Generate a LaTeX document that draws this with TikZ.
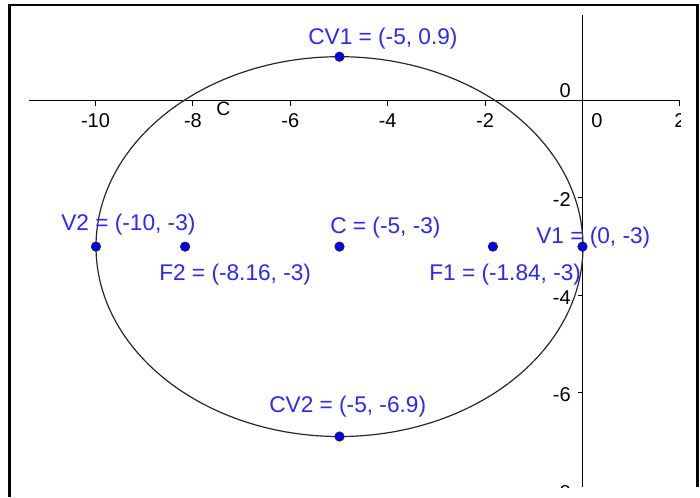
\documentclass[tikz,border=0pt]{standalone}
\usepackage{fontspec}
\setmainfont{Liberation Sans}
\definecolor{ptblue}{RGB}{0,0,255}
\definecolor{lblblue}{RGB}{40,40,255}
\definecolor{curve}{RGB}{40,40,40}
\begin{document}
\begin{tikzpicture}[x=0.75pt,y=-0.75pt,
  ptnode/.style={circle,fill=ptblue,draw=black!85,line width=0.6pt,inner sep=0pt,minimum size=7pt},
  ptlabel/.style={text=lblblue,font=\fontsize{17}{20}\selectfont,inner sep=0pt,anchor=base west},
  axlabel/.style={text=black,font=\fontsize{15}{18}\selectfont,inner sep=0pt},
  axline/.style={line width=0.8pt,black},
  tickline/.style={line width=0.8pt,black}]
\useasboundingbox (0,0) rectangle (700,497);
\fill[white] (0,0) rectangle (700,497);
\begin{scope}
  \clip (29,15) rectangle (680,487);
  % axes
  \coordinate (xl) at (29,100.5);
  \coordinate (xr) at (680,100.5);
  \coordinate (yt) at (582.5,15);
  \coordinate (yb) at (582.5,487);
  \draw[axline] (xl) -- (xr);
  \draw[axline] (yt) -- (yb);
  % x ticks and labels
  \foreach \v in {-10,-8,-6,-4,-2,2} {
    \draw[tickline] ({582.5+48.7*\v},100.5) -- ++(0,5);
    \node[axlabel,anchor=base] (xlab\v) at ({582.5+48.7*\v},127.5) {\v};
  }
  \node[axlabel,anchor=base] (xlab0) at (597,127.5) {0};
  % y ticks and labels
  \foreach \v in {-2,-4,-6,-8} {
    \draw[tickline] (582.5,{100.5-48.7*\v}) -- ++(-5,0);
    \node[axlabel,anchor=base east] (ylab\v) at (571,{109.5-48.7*\v}) {\v};
  }
  \node[axlabel,anchor=base east] (ylab0) at (571,97) {0};
\end{scope}
% ellipse
\draw[line width=0.9pt,curve] (339.5,246.6) ellipse [x radius=243.5, y radius=189.9];
\node[axlabel,anchor=base west,font=\fontsize{14.5}{17}\selectfont] (clab) at (216,115) {C};
% points
\node[ptnode] (CV1) at (339.5,56.7) {};
\node[ptnode] (CV2) at (339.5,436.5) {};
\node[ptnode] (V1) at (582.5,246.6) {};
\node[ptnode] (V2) at (96,246.6) {};
\node[ptnode] (C) at (339.5,246.6) {};
\node[ptnode] (F1) at (492.9,246.6) {};
\node[ptnode] (F2) at (185.1,246.6) {};
% labels
\node[ptlabel] (CV1l) at (308,44) {CV1 = (-5, 0.9)};
\node[ptlabel] (CV2l) at (269,412) {CV2 = (-5, -6.9)};
\node[ptlabel] (V1l) at (536,243) {V1 = (0, -3)};
\node[ptlabel] (V2l) at (61,230) {V2 = (-10, -3)};
\node[ptlabel] (Cl) at (330,233) {C = (-5, -3)};
\node[ptlabel] (F1l) at (429,280) {F1 = (-1.84, -3)};
\node[ptlabel] (F2l) at (159,280) {F2 = (-8.16, -3)};
% frame
\coordinate (fbl) at (9.5,497);
\coordinate (ftl) at (9.5,5);
\coordinate (ftr) at (697.5,5);
\coordinate (fbr) at (697.5,487);
\draw[line width=1.8pt,black] (fbl) -- (ftl) -- (ftr) -- (fbr);
\end{tikzpicture}
\end{document}
